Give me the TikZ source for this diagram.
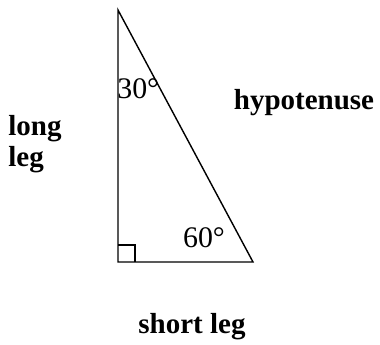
\documentclass[tikz,border=0pt]{standalone}
\usepackage{fontspec}
\setmainfont{Liberation Serif}
\usetikzlibrary{positioning,calc}
\tikzset{
  side/.style={draw=black,line width=0.8pt},
  anglelabel/.style={font=\fontsize{17}{19}\selectfont,inner sep=0pt},
  leglabel/.style={font=\fontsize{16.5}{18}\selectfont\bfseries,inner sep=0pt,align=left}
}

\begin{document}
\begin{tikzpicture}[x=0.02cm,y=-0.02cm]
  \useasboundingbox (0,0) rectangle (380,345);
  \coordinate (top) at (118,10);
  \coordinate (corner) at (118,262);
  \coordinate (right) at (253,262);
  \draw[side] (top) -- (corner) -- (right) -- cycle;
  \draw[side,line width=0.6pt] ($(corner)+(0,-17)$) -| ($(corner)+(17,0)$);
  \node[anglelabel,anchor=west] (thirty) at (117,89) {30\textdegree};
  \node[anglelabel] (sixty) at (204,238) {60\textdegree};
  \node[leglabel] (hyp) at (304,103) {hypotenuse};
  \node[leglabel,anchor=west] (long) at (8,144) {long\\leg};
  \node[leglabel] (short) at (192,327) {short leg};
\end{tikzpicture}
\end{document}
